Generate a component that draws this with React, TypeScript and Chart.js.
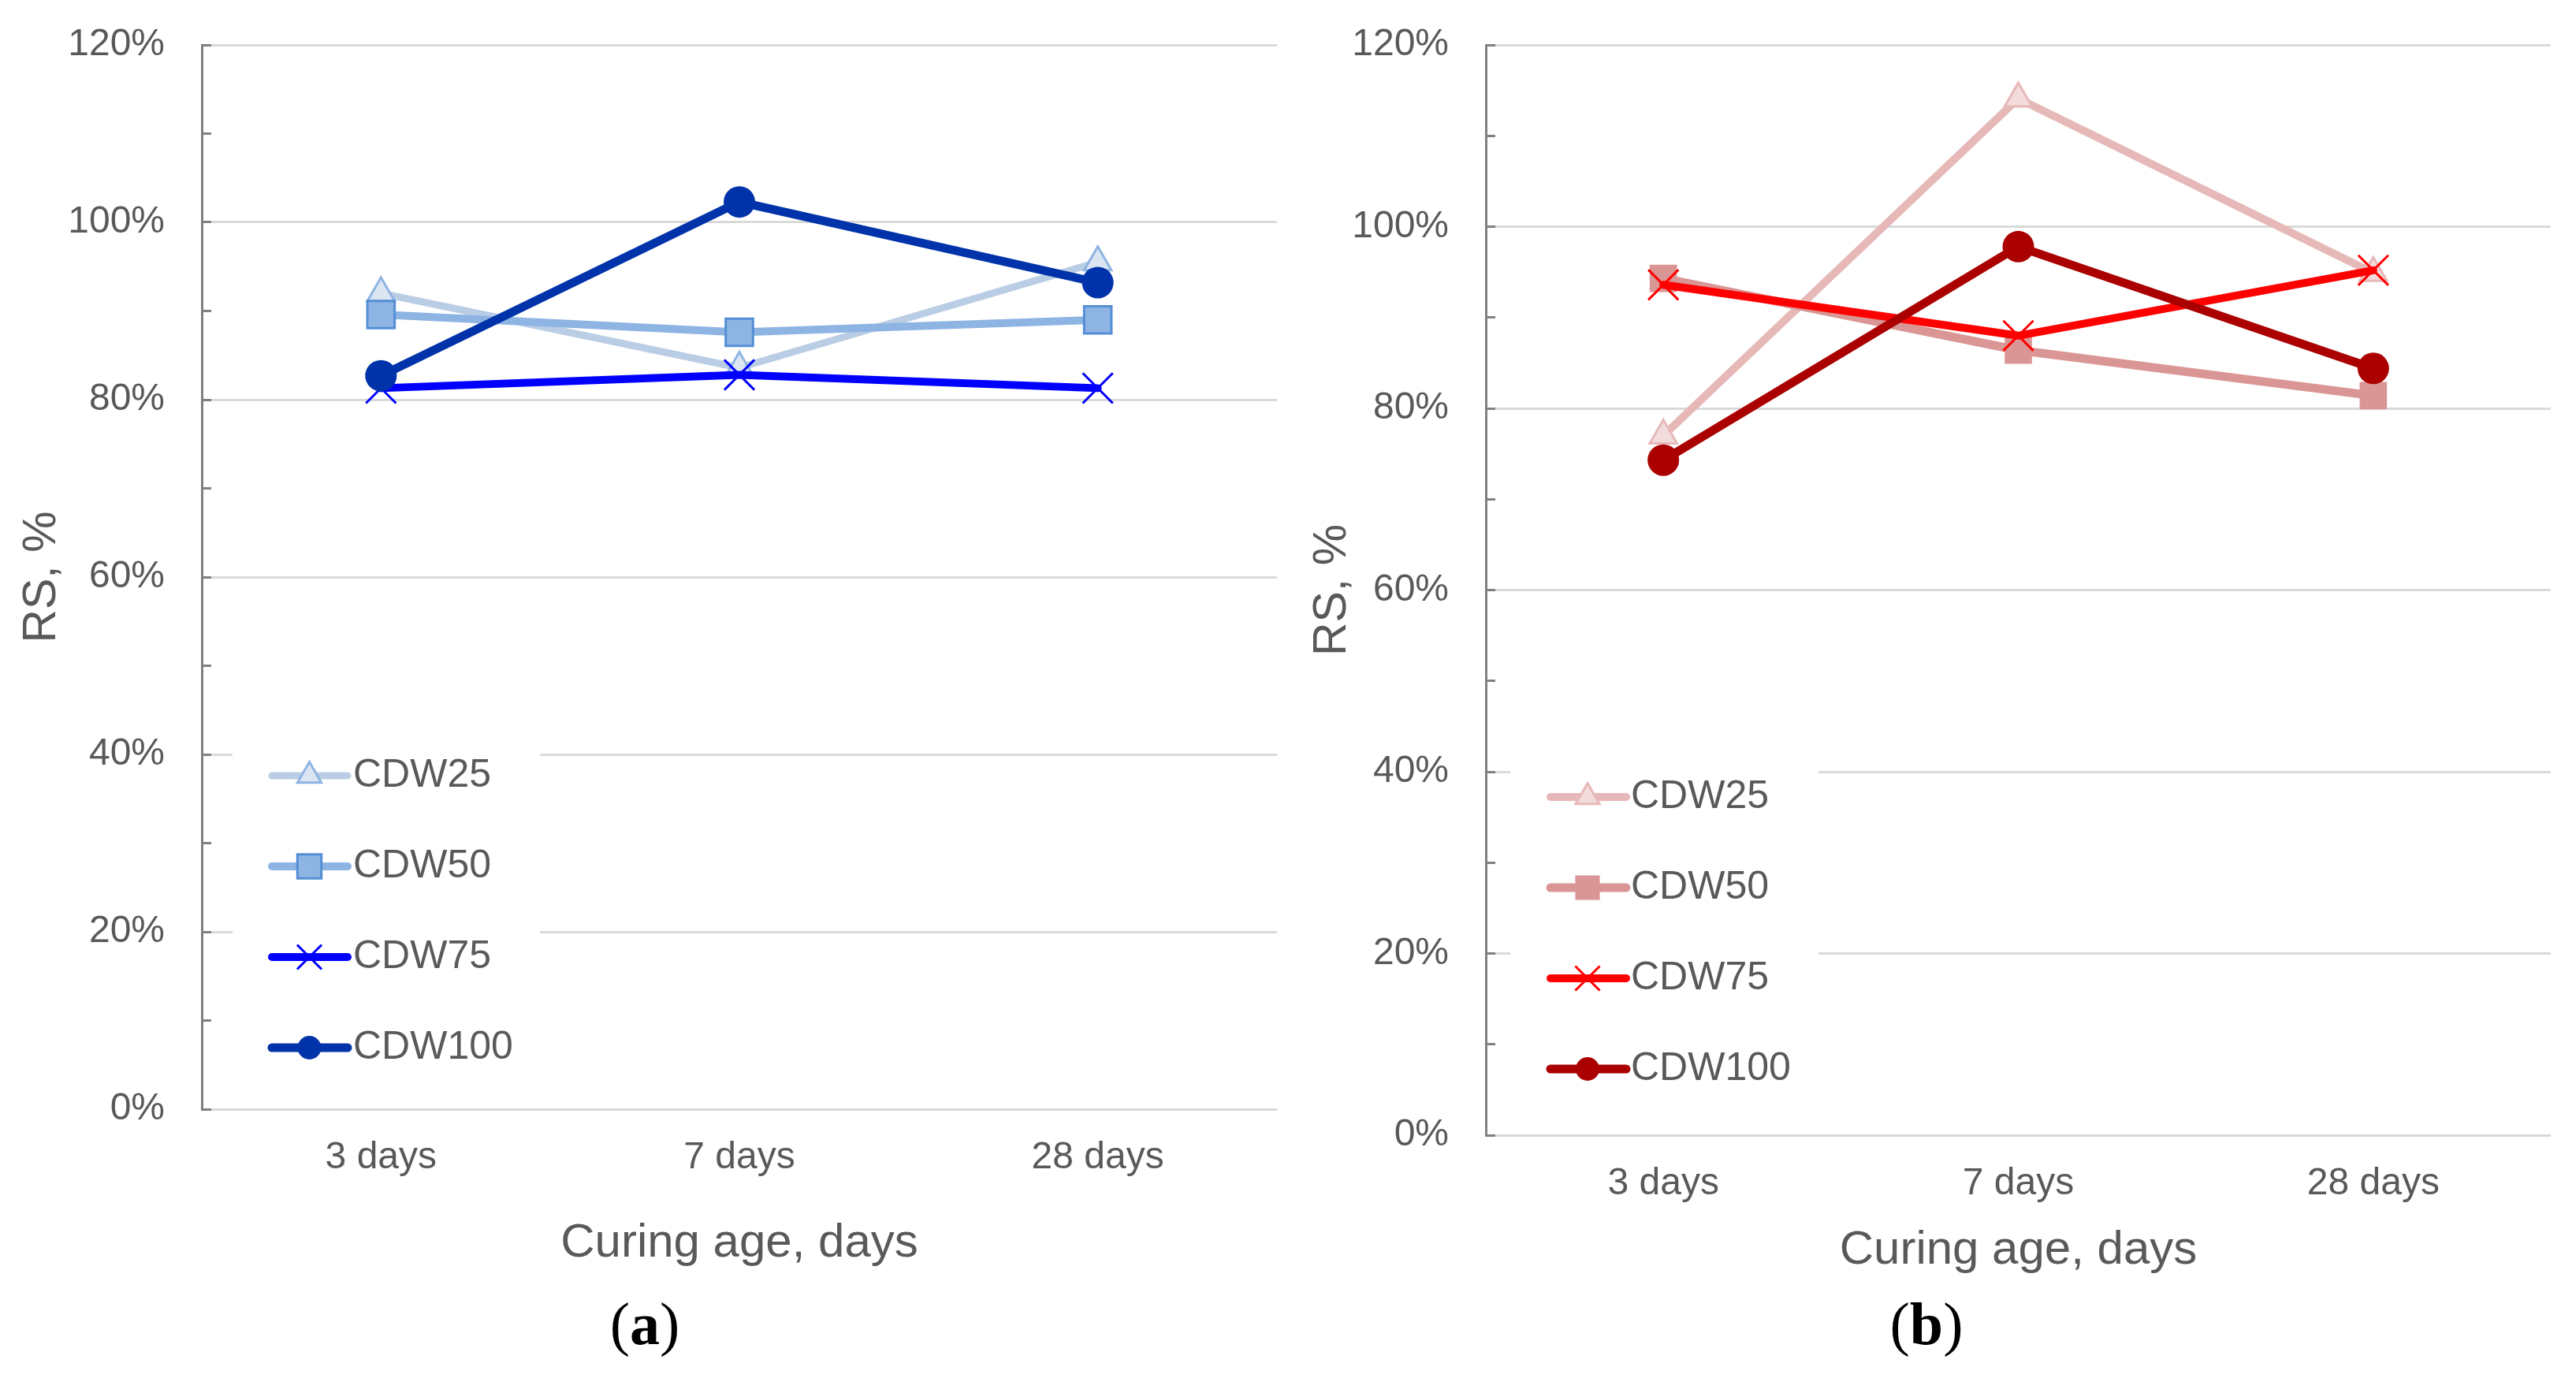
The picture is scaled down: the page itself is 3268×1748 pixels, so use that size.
import { useEffect, useRef } from "react";
import { Chart, registerables } from "chart.js";
import { drawPoint } from "chart.js/helpers";

Chart.register(...registerables);

const categories = ["3 days", "7 days", "28 days"];
const seriesNames = ["CDW25", "CDW50", "CDW75", "CDW100"];

// panel (a), RS in %
const blueCDW25 = [92.0, 83.6, 95.5];
const blueCDW50 = [89.6, 87.6, 89.0];
const blueCDW75 = [81.3, 82.8, 81.3];
const blueCDW100 = [82.7, 102.3, 93.2];

// panel (b), RS in %
const redCDW25 = [77.0, 114.1, 94.9];
const redCDW50 = [94.3, 86.4, 81.4];
const redCDW75 = [93.6, 88.0, 95.2];
const redCDW100 = [74.3, 97.8, 84.4];

const yMin = 0;
const yMax = 120;
const yStep = 10;
const yLabelStep = 20;

const FONT = "'Liberation Sans', Arial, Helvetica, sans-serif";
const TEXT = "#595959";
const PANEL_W = 1634;
const PANEL_H = 1748;

interface SeriesStyle {
  line: string;
  width: number;
  point: string;
  radius: number;
  legendRadius: number;
  fill: string;
  border: string;
  borderWidth: number;
}

const blueStyles: SeriesStyle[] = [
  { line: "#b9cde5", width: 9, point: "triangle", radius: 20, legendRadius: 17.5, fill: "#dce6f2", border: "#8eb4e3", borderWidth: 3 },
  { line: "#8eb4e3", width: 10, point: "rect", radius: 24.5, legendRadius: 21.5, fill: "#8eb4e3", border: "#558ed5", borderWidth: 3 },
  { line: "#0000ff", width: 10, point: "crossRot", radius: 27, legendRadius: 22, fill: "#0000ff", border: "#0000ff", borderWidth: 3 },
  { line: "#0033aa", width: 11, point: "circle", radius: 20, legendRadius: 15, fill: "#0033aa", border: "#0033aa", borderWidth: 0 },
];

const redStyles: SeriesStyle[] = [
  { line: "#e6b9b8", width: 10, point: "triangle", radius: 20, legendRadius: 17.5, fill: "#f2dcdb", border: "#e6b9b8", borderWidth: 3 },
  { line: "#d99694", width: 11, point: "rect", radius: 24.5, legendRadius: 22, fill: "#d99694", border: "#d99694", borderWidth: 0 },
  { line: "#ff0000", width: 10, point: "crossRot", radius: 27, legendRadius: 22, fill: "#ff0000", border: "#ff0000", borderWidth: 3 },
  { line: "#aa0000", width: 11, point: "circle", radius: 20, legendRadius: 15, fill: "#aa0000", border: "#aa0000", borderWidth: 0 },
];

interface Geom {
  plotLeft: number;
  plotRight: number;
  plotTop: number;
  plotBottom: number;
  xTitlePad: number;
  yTitlePad: number;
  legend: {
    firstRow: number;
    rowGap: number;
    boxX0: number;
    boxX1: number;
    lineX0: number;
    lineX1: number;
    markX: number;
    textX: number;
  };
  tagX: number;
  tagY: number;
}

const geomA: Geom = {
  plotLeft: 256,
  plotRight: 1620,
  plotTop: 57,
  plotBottom: 1407,
  xTitlePad: 135,
  yTitlePad: 18,
  legend: { firstRow: 423, rowGap: 115, boxX0: 39, boxX1: 429, lineX0: 89, lineX1: 185, markX: 136.5, textX: 192 },
  tagX: 818,
  tagY: 1686,
};

const geomB: Geom = {
  plotLeft: 251,
  plotRight: 1602,
  plotTop: 57,
  plotBottom: 1440,
  xTitlePad: 126,
  yTitlePad: 21,
  legend: { firstRow: 429, rowGap: 115, boxX0: 31, boxX1: 422, lineX0: 82, lineX1: 178, markX: 129, textX: 184 },
  tagX: 810,
  tagY: 1686,
};

// legend drawn inside the plot, Excel style (line + marker + name)
const insideLegend = {
  id: "insideLegend",
  afterDatasetsDraw(chart: any, _args: any, opts: any) {
    const { ctx, chartArea } = chart;
    const g = opts.geom as Geom["legend"];
    const styles = opts.styles as SeriesStyle[];
    const left = chartArea.left;
    const bottom = chartArea.bottom;
    const rows = chart.data.datasets.length;
    ctx.save();
    ctx.fillStyle = "#ffffff";
    const top = bottom - g.firstRow - 70;
    ctx.fillRect(left + g.boxX0, top, g.boxX1 - g.boxX0, g.rowGap * (rows - 1) + 130);
    chart.data.datasets.forEach((ds: any, i: number) => {
      const st = styles[i];
      const y = bottom - g.firstRow + i * g.rowGap;
      ctx.strokeStyle = st.line;
      ctx.lineWidth = st.width;
      ctx.lineCap = "round";
      ctx.beginPath();
      ctx.moveTo(left + g.lineX0, y);
      ctx.lineTo(left + g.lineX1, y);
      ctx.stroke();
      ctx.lineCap = "butt";
      ctx.fillStyle = st.fill;
      ctx.strokeStyle = st.border;
      ctx.lineWidth = st.borderWidth;
      drawPoint(ctx, { pointStyle: st.point, radius: st.legendRadius, rotation: 0, borderWidth: st.borderWidth } as any, left + g.markX, y);
      ctx.fillStyle = TEXT;
      ctx.font = `50px ${FONT}`;
      ctx.textAlign = "left";
      ctx.textBaseline = "middle";
      ctx.fillText(ds.label, left + g.textX, y);
    });
    ctx.restore();
  },
};

function Panel({ x, series, styles, geom, tag }: { x: number; series: number[][]; styles: SeriesStyle[]; geom: Geom; tag: string }) {
  const canvasRef = useRef<HTMLCanvasElement>(null);

  useEffect(() => {
    if (!canvasRef.current) return;
    const chart = new Chart(canvasRef.current, {
      type: "line",
      data: {
        labels: categories,
        datasets: series.map((values, i) => {
          const st = styles[i];
          return {
            label: seriesNames[i],
            data: values,
            order: series.length - i,
            borderColor: st.line,
            borderWidth: st.width,
            borderCapStyle: "round",
            borderJoinStyle: "round",
            tension: 0,
            fill: false,
            pointStyle: st.point,
            pointRadius: st.radius,
            pointBackgroundColor: st.fill,
            pointBorderColor: st.border,
            pointBorderWidth: st.borderWidth,
          } as any;
        }),
      },
      options: {
        responsive: false,
        animation: false,
        devicePixelRatio: 1,
        events: [],
        layout: {
          autoPadding: false,
          padding: { left: 0, top: geom.plotTop, right: PANEL_W - geom.plotRight, bottom: 0 },
        },
        plugins: {
          legend: { display: false },
          tooltip: { enabled: false },
          insideLegend: { geom: geom.legend, styles },
        } as any,
        scales: {
          x: {
            type: "category",
            offset: true,
            grid: { display: false, drawTicks: false },
            border: { display: false },
            ticks: { color: TEXT, font: { family: FONT, size: 48 }, padding: 33 },
            title: {
              display: true,
              text: "Curing age, days",
              color: TEXT,
              font: { family: FONT, size: 60 },
              padding: { top: 0, bottom: geom.xTitlePad },
            },
            afterFit: (scale: any) => {
              scale.height = PANEL_H - geom.plotBottom;
              scale.paddingLeft = 0;
              scale.paddingRight = 0;
            },
          },
          y: {
            min: yMin,
            max: yMax,
            ticks: {
              stepSize: yStep,
              color: TEXT,
              font: { family: FONT, size: 48 },
              padding: 59,
              autoSkip: false,
              callback: (v: any) => (Number(v) % yLabelStep === 0 ? `${v}%` : ""),
            },
            grid: {
              color: (ctx: any) => (ctx.tick && ctx.tick.value % yLabelStep === 0 ? "#d9d9d9" : "rgba(0,0,0,0)"),
              lineWidth: 3,
              drawTicks: true,
              tickLength: -12,
              tickColor: "#808080",
              tickWidth: 3,
            },
            border: { color: "#808080", width: 3 },
            title: {
              display: true,
              text: "RS, %",
              color: TEXT,
              font: { family: FONT, size: 59 },
              padding: { top: geom.yTitlePad, bottom: 0 },
            },
            afterFit: (scale: any) => {
              scale.width = geom.plotLeft;
              scale.paddingTop = 0;
              scale.paddingBottom = 0;
            },
          },
        },
      },
      plugins: [insideLegend],
    });

    return () => {
      chart.destroy();
    };
  }, [series, styles, geom]);

  return (
    <div style={{ position: "absolute", left: x, top: 0, width: PANEL_W, height: PANEL_H }}>
      <canvas
        ref={canvasRef}
        width={PANEL_W}
        height={PANEL_H}
        style={{ position: "absolute", left: 0, top: 0, width: PANEL_W, height: PANEL_H }}
      ></canvas>
      <div
        style={{
          position: "absolute",
          left: geom.tagX,
          top: geom.tagY - 7,
          transform: "translate(-50%, -50%)",
          fontFamily: "'Liberation Serif', 'Times New Roman', serif",
          fontSize: 76,
          lineHeight: 1,
          color: "#000",
          whiteSpace: "nowrap",
        }}
      >
        (<b>{tag}</b>)
      </div>
    </div>
  );
}

const blueSeries = [blueCDW25, blueCDW50, blueCDW75, blueCDW100];
const redSeries = [redCDW25, redCDW50, redCDW75, redCDW100];

export default function App() {
  return (
    <div style={{ position: "fixed", left: 0, top: 0, width: 3268, height: 1748, background: "#ffffff", overflow: "hidden" }}>
      <Panel x={0} series={blueSeries} styles={blueStyles} geom={geomA} tag="a" />
      <Panel x={PANEL_W} series={redSeries} styles={redStyles} geom={geomB} tag="b" />
    </div>
  );
}
